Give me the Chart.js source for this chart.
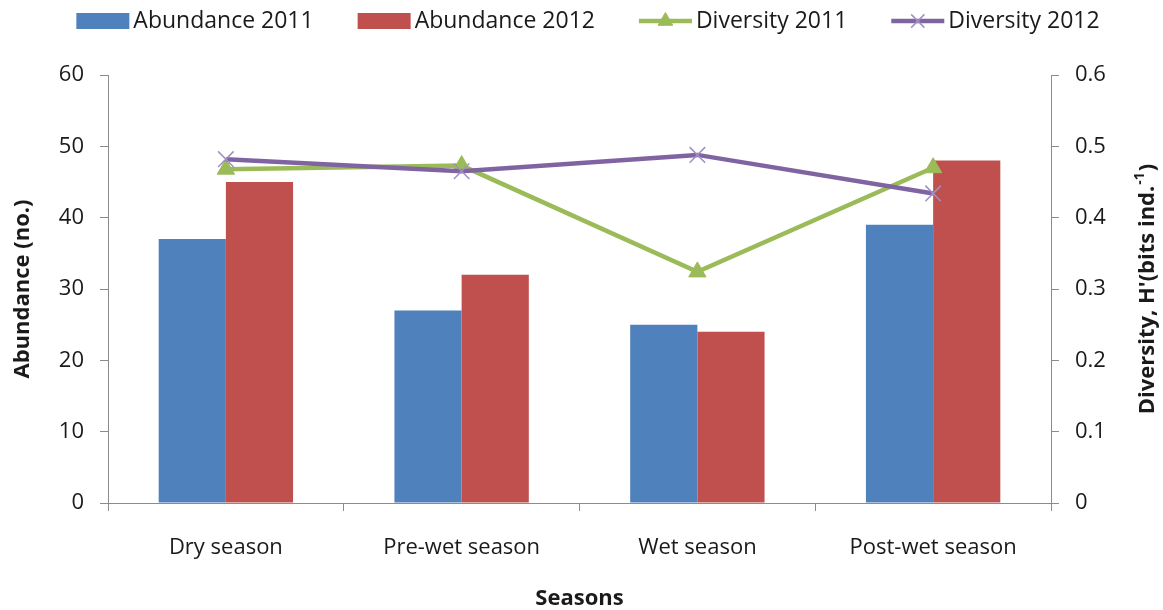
<!DOCTYPE html>
<html>
<head>
<meta charset="utf-8">
<title>Abundance and diversity by season</title>
<script src="https://cdn.jsdelivr.net/npm/chart.js@4.4.1/dist/chart.umd.min.js"></script>
<style>
  html, body { margin: 0; padding: 0; background: #fff; }
  #wrap { width: 1163px; height: 610px; position: relative; }
</style>
</head>
<body>
<div id="wrap"><canvas id="chart" width="1163" height="610"></canvas></div>
<script>
// Seasons sampled and the two survey years
const seasons = ['Dry season', 'Pre-wet season', 'Wet season', 'Post-wet season'];
const abundance2011 = [37, 27, 25, 39];
const abundance2012 = [45, 32, 24, 48];
const diversity2011 = [0.468, 0.473, 0.324, 0.470];
const diversity2012 = [0.482, 0.465, 0.488, 0.434];

const FONT = "'Open Sans', 'Noto Sans', sans-serif";
const AXIS_COLOR = '#8c8c8c';
const TEXT_COLOR = '#1a1a1a';

// Legend drawn across the top: swatch (box or line + marker) then label
const topLegend = {
  id: 'topLegend',
  afterDraw(chart) {
    const ctx = chart.ctx;
    const items = chart.data.datasets;
    const swatchW = 53, swatchH = 16, gapText = 4, gapItem = 44, cy = 21;
    ctx.save();
    ctx.font = '23px ' + FONT;
    const widths = items.map(d => swatchW + gapText + ctx.measureText(d.label).width);
    const total = widths.reduce((a, b) => a + b, 0) + gapItem * (items.length - 1);
    let x = 588 - total / 2;
    items.forEach((d, i) => {
      if (d.type === 'line') {
        ctx.strokeStyle = d.borderColor;
        ctx.lineWidth = d.borderWidth;
        ctx.beginPath();
        ctx.moveTo(x, cy);
        ctx.lineTo(x + swatchW, cy);
        ctx.stroke();
        ctx.fillStyle = d.pointBackgroundColor;
        ctx.strokeStyle = d.pointBorderColor;
        ctx.lineWidth = d.pointBorderWidth;
        Chart.helpers.drawPoint(ctx, {
          pointStyle: d.pointStyle,
          radius: d.pointRadius * 0.85,
          borderWidth: d.pointBorderWidth
        }, x + swatchW / 2, cy);
      } else {
        ctx.fillStyle = d.backgroundColor;
        ctx.fillRect(x, cy - swatchH / 2, swatchW, swatchH);
      }
      ctx.fillStyle = TEXT_COLOR;
      ctx.textBaseline = 'middle';
      ctx.textAlign = 'left';
      ctx.fillText(d.label, x + swatchW + gapText, cy);
      x += widths[i] + gapItem;
    });
    ctx.restore();
  }
};

// Right-axis title, read bottom-to-top, with a superscript unit exponent
const rightTitle = {
  id: 'rightTitle',
  afterDraw(chart) {
    const ctx = chart.ctx;
    const area = chart.chartArea;
    const main = "Diversity, H'(bits ind.";
    const sup = '-1';
    const tail = ')';
    ctx.save();
    ctx.fillStyle = TEXT_COLOR;
    ctx.textBaseline = 'middle';
    ctx.textAlign = 'left';
    const big = 'bold 22px ' + FONT;
    const small = 'bold 14px ' + FONT;
    ctx.font = big;
    const wMain = ctx.measureText(main).width;
    const wTail = ctx.measureText(tail).width;
    ctx.font = small;
    const wSup = ctx.measureText(sup).width;
    const total = wMain + wSup + 2 + wTail;
    ctx.translate(1148, (area.top + area.bottom) / 2);
    ctx.rotate(-Math.PI / 2);
    let x = -total / 2;
    ctx.font = big;
    ctx.fillText(main, x, 0);
    x += wMain + 1;
    ctx.font = small;
    ctx.fillText(sup, x, -8);
    x += wSup + 1;
    ctx.font = big;
    ctx.fillText(tail, x, 0);
    ctx.restore();
  }
};

const ctx = document.getElementById('chart').getContext('2d');
new Chart(ctx, {
  type: 'bar',
  data: {
    labels: seasons,
    datasets: [
      {
        type: 'bar', label: 'Abundance 2011', data: abundance2011,
        backgroundColor: '#4F81BD', yAxisID: 'y', order: 3
      },
      {
        type: 'bar', label: 'Abundance 2012', data: abundance2012,
        backgroundColor: '#C0504D', yAxisID: 'y', order: 3
      },
      {
        type: 'line', label: 'Diversity 2011', data: diversity2011,
        borderColor: '#9BBB59', borderWidth: 4.5,
        pointStyle: 'triangle', pointRadius: 10, pointBorderWidth: 1,
        pointBackgroundColor: '#9BBB59', pointBorderColor: '#9BBB59',
        tension: 0, yAxisID: 'y1', order: 2
      },
      {
        type: 'line', label: 'Diversity 2012', data: diversity2012,
        borderColor: '#8064A2', borderWidth: 4.5,
        pointStyle: 'crossRot', pointRadius: 11, pointBorderWidth: 1.5,
        pointBackgroundColor: '#a08fc4', pointBorderColor: '#a08fc4',
        tension: 0, yAxisID: 'y1', order: 1
      }
    ]
  },
  options: {
    responsive: false,
    animation: false,
    devicePixelRatio: 1,
    layout: { padding: { top: 75, left: 0, right: 0, bottom: 0 } },
    datasets: { bar: { categoryPercentage: 0.57, barPercentage: 1.0 } },
    plugins: {
      legend: { display: false },
      tooltip: { enabled: false }
    },
    scales: {
      x: {
        offset: true,
        grid: { display: true, offset: true, drawOnChartArea: false, drawTicks: true,
                tickLength: 8, color: AXIS_COLOR },
        border: { color: AXIS_COLOR, width: 1 },
        ticks: { color: TEXT_COLOR, font: { family: FONT, size: 22 }, padding: 24, maxRotation: 0 },
        title: { display: true, text: 'Seasons', color: TEXT_COLOR,
                 font: { family: FONT, size: 22, weight: 'bold' }, padding: { top: 0, bottom: -2 } },
        afterFit(scale) { scale.height = 107; }
      },
      y: {
        position: 'left', min: 0, max: 60,
        grid: { display: true, drawOnChartArea: false, tickLength: 8, color: AXIS_COLOR },
        border: { color: AXIS_COLOR, width: 1 },
        ticks: { stepSize: 10, color: TEXT_COLOR, font: { family: FONT, size: 22 }, padding: 16 },
        title: { display: true, text: 'Abundance (no.)', color: TEXT_COLOR,
                 font: { family: FONT, size: 22, weight: 'bold' }, padding: { top: 10, bottom: 0 } },
        afterFit(scale) { scale.width = 108; }
      },
      y1: {
        position: 'right', min: 0, max: 0.6,
        grid: { display: true, drawOnChartArea: false, tickLength: 8, color: AXIS_COLOR },
        border: { color: AXIS_COLOR, width: 1 },
        ticks: { stepSize: 0.1, color: TEXT_COLOR, font: { family: FONT, size: 22 }, padding: 16,
                 callback: v => String(+v.toFixed(1)) },
        title: { display: false },
        afterFit(scale) { scale.width = 112; }
      }
    }
  },
  plugins: [topLegend, rightTitle]
});
</script>
</body>
</html>
